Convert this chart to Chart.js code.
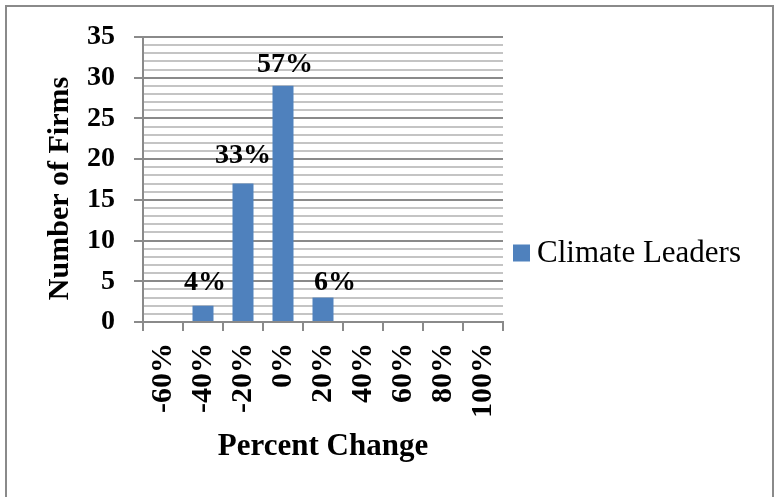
<!DOCTYPE html>
<html>
<head>
<meta charset="utf-8">
<script src="https://cdn.jsdelivr.net/npm/chart.js@4/dist/chart.umd.min.js"></script>
<style>
  html, body { margin: 0; padding: 0; background: #ffffff; }
  #wrap { position: relative; width: 775px; height: 497px; overflow: hidden; }
  #frame {
    position: absolute; left: 5px; top: 5px; width: 765px; height: 520px;
    border: 2px solid #8a8a8a; border-bottom: none; box-sizing: content-box;
    pointer-events: none;
  }
  canvas { position: absolute; left: 0; top: 0; }
</style>
</head>
<body>
<div id="wrap">
  <canvas id="chart" width="775" height="497"></canvas>
  <div id="frame"></div>
</div>
<script>
// Distribution of percent change across firms
const categories = ['-60%', '-40%', '-20%', '0%', '20%', '40%', '60%', '80%', '100%'];
const firmCounts = [0, 2, 17, 29, 3, 0, 0, 0, 0];
const seriesName = 'Climate Leaders';
const yAxisTitle = 'Number of Firms';
const xAxisTitle = 'Percent Change';
const yMin = 0;
const yMax = 35;

const SERIF = '"Liberation Serif", "Times New Roman", Times, serif';
const BAR_BLUE = '#4f81bd';
const MAJOR_GRID = '#8a8a8a';
const MINOR_GRID = '#c4c4c4';

const totalFirms = firmCounts.reduce((a, b) => a + b, 0);

// Share-of-firms labels above each non-empty bar; small nudges keep them clear of neighbours
const shareLabels = {
  id: 'shareLabels',
  afterDatasetsDraw(chart, args, opts) {
    const { ctx } = chart;
    const meta = chart.getDatasetMeta(0);
    ctx.save();
    ctx.font = 'bold 28px ' + SERIF;
    ctx.fillStyle = '#000000';
    ctx.textAlign = 'center';
    ctx.textBaseline = 'alphabetic';
    meta.data.forEach((bar, i) => {
      const v = firmCounts[i];
      if (!v) return;
      const pct = Math.round(v / totalFirms * 100) + '%';
      const n = opts.nudge[i] || { dx: 0, gap: 14 };
      ctx.fillText(pct, bar.x + n.dx, bar.y - n.gap);
    });
    ctx.restore();
  }
};

// Vertical axis title, set a little below the middle of the plot
const sideTitle = {
  id: 'sideTitle',
  afterDraw(chart, args, opts) {
    const { ctx, chartArea } = chart;
    ctx.save();
    ctx.translate(opts.x, (chartArea.top + chartArea.bottom) / 2 + opts.dy);
    ctx.rotate(-Math.PI / 2);
    ctx.font = 'bold 30px ' + SERIF;
    ctx.fillStyle = '#000000';
    ctx.textAlign = 'center';
    ctx.textBaseline = 'middle';
    ctx.fillText(opts.text, 0, 0);
    ctx.restore();
  }
};

// Single-entry legend to the right of the plot
const sideLegend = {
  id: 'sideLegend',
  afterDraw(chart, args, opts) {
    const { ctx, chartArea } = chart;
    const ds = chart.data.datasets[0];
    const x = chartArea.right + opts.gap;
    const y = opts.y;
    ctx.save();
    ctx.fillStyle = ds.backgroundColor;
    ctx.fillRect(x, y - opts.box / 2, opts.box, opts.box);
    ctx.font = '31px ' + SERIF;
    ctx.fillStyle = '#000000';
    ctx.textAlign = 'left';
    ctx.textBaseline = 'middle';
    ctx.fillText(ds.label, x + opts.box + opts.textGap, y + 1);
    ctx.restore();
  }
};

new Chart(document.getElementById('chart'), {
  type: 'bar',
  data: {
    labels: categories,
    datasets: [{
      label: seriesName,
      data: firmCounts,
      backgroundColor: BAR_BLUE,
      borderWidth: 0,
      barPercentage: 0.525,
      categoryPercentage: 1.0
    }]
  },
  options: {
    responsive: false,
    animation: false,
    devicePixelRatio: 1,
    layout: { padding: { left: 42, top: 37, bottom: 31, right: 272 } },
    plugins: {
      legend: { display: false },
      tooltip: { enabled: false },
      shareLabels: {
        nudge: {
          1: { dx: 2, gap: 16 },
          2: { dx: 0, gap: 21 },
          3: { dx: 2, gap: 14 },
          4: { dx: 12, gap: 8 }
        }
      },
      sideTitle: { text: yAxisTitle, x: 60, dy: 9 },
      sideLegend: { gap: 10, y: 253, box: 17, textGap: 7 }
    },
    scales: {
      x: {
        offset: true,
        grid: {
          offset: true,
          drawOnChartArea: false,
          drawTicks: true,
          tickLength: 9,
          tickColor: MAJOR_GRID,
          tickWidth: 2,
          lineWidth: 2,
          color: MAJOR_GRID
        },
        border: { display: true, color: MAJOR_GRID, width: 2 },
        ticks: {
          autoSkip: false,
          minRotation: 90,
          maxRotation: 90,
          padding: 12,
          color: '#000000',
          font: { family: SERIF, size: 30, weight: 'bold' }
        },
        title: {
          display: true,
          text: xAxisTitle,
          color: '#000000',
          padding: { top: 0, bottom: 0 },
          font: { family: SERIF, size: 31, weight: 'bold' }
        },
        afterFit(scale) { scale.height = 144; }
      },
      y: {
        min: yMin,
        max: yMax,
        grid: {
          drawTicks: true,
          tickLength: 9,
          lineWidth: 2,
          color: (c) => (c.tick && c.tick.value % 5 === 0) ? MAJOR_GRID : MINOR_GRID,
          tickColor: (c) => (c.tick && c.tick.value % 5 === 0) ? MAJOR_GRID : 'rgba(0,0,0,0)',
          tickWidth: 2
        },
        border: { display: true, color: MAJOR_GRID, width: 2 },
        ticks: {
          stepSize: 1,
          autoSkip: false,
          padding: 19,
          color: '#000000',
          font: { family: SERIF, size: 28, weight: 'bold' },
          callback: (v) => (v % 5 === 0 ? String(v) : '')
        },
        title: { display: false },
        afterFit(scale) { scale.width = 101; }
      }
    }
  },
  plugins: [shareLabels, sideTitle, sideLegend]
});
</script>
</body>
</html>
